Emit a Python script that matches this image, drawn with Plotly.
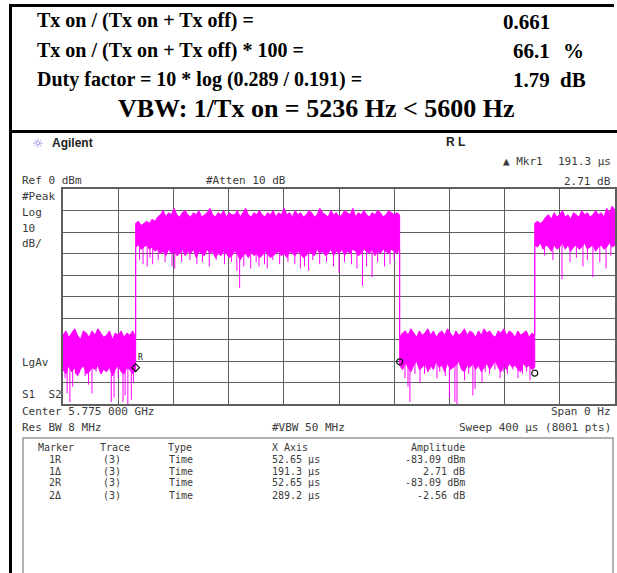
import numpy as np
import plotly.graph_objects as go

W, H = 617, 573

# ---------------- measurement readouts ----------------
ratio_label = "Tx on / (Tx on + Tx off) ="
ratio_value = "0.661"
pct_label = "Tx on / (Tx on + Tx off) * 100 ="
pct_value = "66.1"
duty_label = "Duty factor = 10 * log (0.289 / 0.191) ="
duty_value = "1.79"
vbw_line = "VBW: 1/Tx on = 5236 Hz < 5600 Hz"

# ---------------- marker table ----------------
marker_names = ["1R", "1Δ", "2R", "2Δ"]
marker_trace = ["(3)", "(3)", "(3)", "(3)"]
marker_type = ["Time", "Time", "Time", "Time"]
marker_x_us = [52.65, 191.3, 52.65, 289.2]
marker_amp = [-83.09, 2.71, -83.09, -2.56]
marker_amp_unit = ["dBm", "dB", "dBm", "dB"]

SWEEP_US = 400
REF_DBM = 0
DB_PER_DIV = 10

# burst edges follow the marker positions
t_rise1 = marker_x_us[0]
t_fall = marker_x_us[0] + marker_x_us[1]
t_rise2 = marker_x_us[2] + marker_x_us[3]

# ---------------- trace envelopes (dBm) ----------------
off1_hi = [-68, -66, -69, -67, -65, -68, -70, -66, -67, -69, -66, -68, -65,
           -67, -69, -68, -66, -70, -67, -68, -66, -69, -67, -68, -66, -69]
off1_lo = [-84, -86, -82, -85, -83, -87, -84, -82, -86, -85, -83, -84, -82,
           -86, -84, -85, -83, -87, -84, -82, -85, -86, -83, -84, -86, -84]

on1_hi = [-16, -15, -17, -16, -15, -16, -14, -15, -13, -12,
          -10, -13, -11, -12, -9, -12, -13, -11, -10, -12,
          -13, -11, -12, -10, -13, -12, -11, -9, -12, -13,
          -11, -12, -10, -13, -11, -12, -12, -10, -13, -11,
          -9, -12, -13, -11, -12, -10, -12, -13, -11, -12,
          -10, -13, -11, -12, -9, -12, -11, -13, -10, -12,
          -11, -13, -12, -10, -11, -13, -12, -9, -11, -12,
          -13, -10, -12, -11, -13, -12, -10, -11, -12, -9,
          -13, -11, -12, -10, -12, -13, -11, -12, -10, -11,
          -13, -12, -10, -11, -12, -11, -12]
on1_lo = [-27, -26, -28, -27, -26, -28, -27, -29, -28, -30,
          -29, -31, -28, -30, -29, -31, -30, -28, -31, -29,
          -30, -28, -32, -29, -30, -31, -28, -30, -29, -32,
          -30, -31, -29, -30, -32, -31, -29, -30, -33, -31,
          -30, -32, -29, -31, -30, -32, -31, -29, -30, -32,
          -31, -30, -29, -31, -30, -32, -29, -30, -31, -29,
          -30, -32, -31, -29, -30, -31, -28, -30, -29, -31,
          -30, -28, -31, -29, -30, -28, -31, -29, -30, -28,
          -29, -31, -30, -28, -29, -30, -28, -31, -29, -30,
          -28, -29, -30, -28, -29, -30, -28]

off2_hi = [-69, -67, -66, -68, -65, -67, -69, -66, -68, -67, -65, -68, -66,
           -69, -67, -66, -68, -65, -67, -69, -66, -68, -67, -65, -68, -66,
           -67, -69, -66, -68, -65, -67, -66, -68, -69, -66, -67, -65, -68,
           -66, -67, -69, -66, -68, -67, -66, -69, -67, -68]
off2_lo = [-82, -84, -81, -83, -85, -82, -80, -84, -83, -81, -85, -82, -84,
           -80, -83, -82, -85, -81, -84, -83, -82, -80, -84, -85, -82, -83,
           -81, -84, -82, -85, -83, -81, -84, -82, -80, -83, -85, -82, -84,
           -81, -83, -82, -84, -85, -81, -83, -82, -84, -83]

on2_hi = [-16, -15, -16, -15, -13, -12, -14, -11, -13, -12, -10, -13, -12, -14,
          -11, -12, -13, -10, -12, -11, -13, -12, -10, -12, -11, -13, -9, -11,
          -8, -10]
on2_lo = [-26, -27, -25, -28, -26, -27, -29, -26, -28, -27, -25, -28, -26, -29,
          -27, -26, -28, -27, -25, -28, -27, -26, -29, -27, -26, -28, -27, -25,
          -27, -26]

# narrow downward excursions below the dense band
on_spike_t = [55.5, 58, 61, 63, 65, 69, 74, 79, 81, 86, 92, 97, 101, 106, 111,
              117, 122, 126, 128, 131, 136, 140, 142, 146, 148, 152, 157, 163,
              168, 172, 175, 178, 181, 186, 191, 196, 200, 204, 209, 213, 217,
              220, 224, 228, 233, 237, 240,
              349, 355, 361.6, 367.4, 372, 376.8, 380, 384, 389, 393.5, 397]
on_spike_db = [-33, -35, -36, -32, -35, -33, -34, -36, -37, -34, -33, -35, -34,
               -36, -33, -35, -34, -38, -46, -36, -37, -34, -36, -35, -37, -33,
               -35, -34, -35, -37, -36, -38, -33, -35, -34, -36, -39, -34, -35,
               -37, -45, -36, -41, -34, -36, -35, -33,
               -31, -33, -42, -34, -32, -36, -33, -41, -34, -37, -31]
off_spike_t = [1.5, 3, 5, 7, 9, 12, 16, 18.5, 21, 24, 28, 31, 35, 37, 40, 43.5,
               45, 47, 49.5, 51,
               247.8, 250, 251.4, 255, 258.7, 262, 266, 271, 273, 277, 280, 284,
               285.5, 291, 294, 297, 298.6, 303.6, 306, 309, 313, 316.7, 319,
               322, 326, 329.7, 333, 336, 338.4]
off_spike_db = [-88, -95, -99, -92, -86, -84, -87, -91, -95, -85, -86, -84,
                -99, -97, -88, -99, -96, -100, -98, -90,
                -88, -92, -99, -86, -90, -86, -84, -88, -85, -87, -97, -99,
                -100, -89, -86, -96, -93, -90, -85, -86, -84, -88, -85, -86,
                -84, -88, -86, -85, -89]

MAGENTA = "#ff00ff"
GRID = "#5e5e5e"
INK = "#3a3a3a"
MONO = "DejaVu Sans Mono"
SERIF = "Liberation Serif"
SANS = "Liberation Sans"


def seg_times(t0, t1, vals):
    return np.linspace(t0, t1, len(vals))


segments = [
    (0.0, t_rise1, off1_hi, off1_lo),
    (t_rise1, t_fall, on1_hi, on1_lo),
    (t_fall, t_rise2, off2_hi, off2_lo),
    (t_rise2, SWEEP_US, on2_hi, on2_lo),
]
up_t = np.concatenate([seg_times(a, b, hi) for a, b, hi, lo in segments])
up_v = np.concatenate([hi for a, b, hi, lo in segments])
lo_t = np.concatenate([seg_times(a, b, lo) for a, b, hi, lo in segments])
lo_v = np.concatenate([lo for a, b, hi, lo in segments])

poly_x = np.concatenate([up_t, lo_t[::-1]])
poly_y = np.concatenate([up_v, lo_v[::-1]])

fig = go.Figure()
fig.add_trace(go.Scatter(x=poly_x, y=poly_y, mode="lines", fill="toself",
                         fillcolor=MAGENTA, line=dict(color=MAGENTA, width=1),
                         hoverinfo="skip"))


def spike_xy(ts, dbs, top):
    xs, ys = [], []
    for t, d in zip(ts, dbs):
        xs += [t, t, None]
        ys += [top, d, None]
    return xs, ys


sx, sy = spike_xy(on_spike_t, on_spike_db, -24)
fig.add_trace(go.Scatter(x=sx, y=sy, mode="lines",
                         line=dict(color=MAGENTA, width=1), hoverinfo="skip"))
sx, sy = spike_xy(off_spike_t, off_spike_db, -76)
fig.add_trace(go.Scatter(x=sx, y=sy, mode="lines",
                         line=dict(color=MAGENTA, width=1), hoverinfo="skip"))

# marker symbols on the trace
ref_t, ref_a = marker_x_us[0], marker_amp[0]
d1 = (ref_t + marker_x_us[1], ref_a + marker_amp[1])
d2 = (marker_x_us[2] + marker_x_us[3], marker_amp[2] + marker_amp[3])
fig.add_trace(go.Scatter(x=[ref_t], y=[ref_a], mode="markers",
                         marker=dict(symbol="diamond-open", size=6,
                                     color="#111", line=dict(width=1.2))))
fig.add_trace(go.Scatter(x=[d1[0], d2[0]], y=[d1[1], d2[1]], mode="markers",
                         marker=dict(symbol="circle-open", size=6,
                                     color="#111", line=dict(width=1.2))))

ann = []
shapes = []


def txt(x, y, s, size=11, anchor="left", family=MONO, color=INK):
    ann.append(dict(x=x / W, y=1 - y / H, xref="paper", yref="paper", text=s,
                    showarrow=False, xanchor=anchor, yanchor="middle",
                    font=dict(family=family, size=size, color=color)))


def hline(x0, x1, y, color="black", width=3):
    shapes.append(dict(type="line", xref="paper", yref="paper",
                       x0=x0 / W, x1=x1 / W, y0=1 - y / H, y1=1 - y / H,
                       line=dict(color=color, width=width)))


def vline(x, y0, y1, color="black", width=3):
    shapes.append(dict(type="line", xref="paper", yref="paper",
                       x0=x / W, x1=x / W, y0=1 - y0 / H, y1=1 - y1 / H,
                       line=dict(color=color, width=width)))


ann.append(dict(x=ref_t, y=ref_a, xref="x", yref="y", text="R",
                showarrow=False, xshift=5, yshift=10,
                font=dict(family=MONO, size=8, color="#111")))

# ---- summary block
ROW = 20
hline(9, 614, 5.5)
vline(10.5, 4, H)
hline(9, W, 131.5)
txt(35, 21, "<b>" + ratio_label + "</b>", ROW, family=SERIF, color="black")
txt(35, 50, "<b>" + pct_label + "</b>", ROW, family=SERIF, color="black")
txt(35, 79, "<b>" + duty_label + "</b>", ROW, family=SERIF, color="black")
txt(552, 22, "<b>" + ratio_value + "</b>", 21, anchor="right", family=SERIF, color="black")
txt(552, 51, "<b>" + pct_value + "</b>", 21, anchor="right", family=SERIF, color="black")
txt(561, 51, "<b>%</b>", 21, family=SERIF, color="black")
txt(552, 80, "<b>" + duty_value + "</b>", 21, anchor="right", family=SERIF, color="black")
txt(558, 80, "<b>dB</b>", 21, family=SERIF, color="black")
txt(316, 109, "<b>" + vbw_line + "</b>", 26, anchor="center", family=SERIF, color="black")

# ---- analyzer header
txt(30, 143, "☼", 13, family="DejaVu Sans", color="#8a7fe8")
txt(50, 143, "<b>Agilent</b>", 12, family=SANS, color="#222")
txt(455, 142, "<b>R L</b>", 12, anchor="center", family=SANS, color="#222")
txt(545, 162, "▲ Mkr1", 11, anchor="right")
txt(613, 162, f"{marker_x_us[1]} μs", 11, anchor="right")
txt(613, 181, f"{marker_amp[1]:.2f} dB", 11, anchor="right")
txt(20, 180, f"Ref {REF_DBM} dBm", 11)
txt(204, 180, "#Atten 10 dB", 11)
txt(20, 196, "#Peak", 11)
txt(20, 212, "Log", 11)
txt(20, 228, f"{DB_PER_DIV}", 11)
txt(20, 244, "dB/", 11)
txt(20, 362, "LgAv", 11)
txt(20, 394, "S1  S2", 11)
txt(20, 411, "Center 5.775 000 GHz", 11)
txt(613, 411, "Span 0 Hz", 11, anchor="right")
txt(20, 427, "Res BW 8 MHz", 11)
txt(270, 427, "#VBW 50 MHz", 11)
txt(613, 427, f"Sweep {SWEEP_US} μs (8001 pts)", 11, anchor="right")

# ---- marker table
shapes.append(dict(type="rect", xref="paper", yref="paper",
                   x0=23 / W, x1=613 / W, y0=-0.02, y1=1 - 438 / H,
                   line=dict(color="#999", width=1.5)))
txt(36, 447, "Marker", 10)
txt(98, 447, "Trace", 10)
txt(166, 447, "Type", 10)
txt(270, 447, "X Axis", 10)
txt(467, 447, "Amplitude", 10, anchor="right")
row_y = [459, 471, 483, 495]
for name, tr, ty, xv, av, au, yy in zip(marker_names, marker_trace, marker_type,
                                         marker_x_us, marker_amp, marker_amp_unit, row_y):
    txt(47, yy, name, 10)
    txt(101, yy, tr, 10)
    txt(167, yy, ty, 10)
    txt(270, yy, f"{xv} μs", 10)
    txt(467, yy, f"{av:.2f} {au}", 10, anchor="right")

fig.update_layout(
    width=W, height=H, margin=dict(l=0, r=0, t=0, b=0),
    paper_bgcolor="white", plot_bgcolor="white", showlegend=False,
    xaxis=dict(domain=[63 / W, 615 / W], range=[0, SWEEP_US], dtick=40, tick0=0,
               showgrid=True, gridcolor=GRID, gridwidth=1.2, zeroline=False,
               showline=True, mirror=True, linecolor=GRID, linewidth=1.5,
               showticklabels=False, ticks=""),
    yaxis=dict(domain=[1 - 404 / H, 1 - 189 / H],
               range=[REF_DBM - 10 * DB_PER_DIV, REF_DBM], dtick=DB_PER_DIV,
               showgrid=True, gridcolor=GRID, gridwidth=1.2, zeroline=False,
               showline=True, mirror=True, linecolor=GRID, linewidth=1.5,
               showticklabels=False, ticks=""),
    annotations=ann, shapes=shapes,
)

fig.write_html("out.html")
